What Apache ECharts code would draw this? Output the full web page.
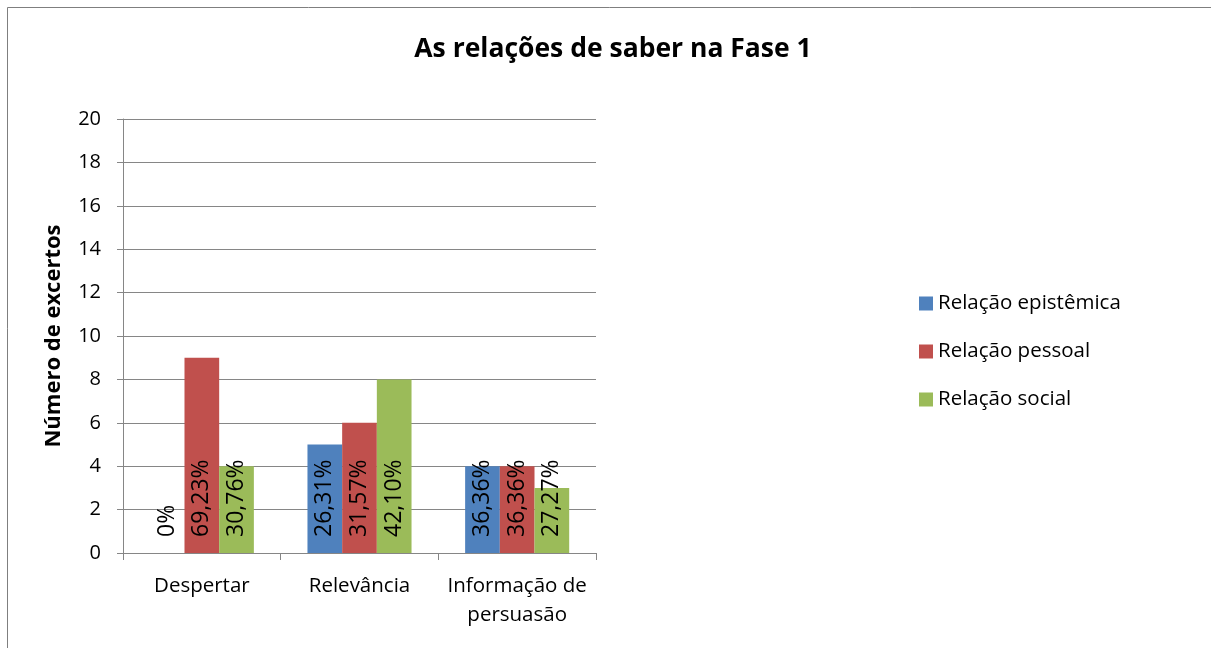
<!DOCTYPE html>
<html><head><meta charset="utf-8">
<script src="https://cdn.jsdelivr.net/npm/echarts@6/dist/echarts.min.js"></script>
<style>html,body{margin:0;padding:0;background:#fff}#c{width:1211px;height:648px}</style>
</head><body><div id="c"></div>
<script>
const categories = ['Despertar', 'Relevância', 'Informação de\npersuasão'];
const seriesNames = ['Relação epistêmica', 'Relação pessoal', 'Relação social'];
const epistemica = [0, 5, 4];
const pessoal = [9, 6, 4];
const social = [4, 8, 3];
const labelsEpistemica = ['0%', '26,31%', '36,36%'];
const labelsPessoal = ['69,23%', '31,57%', '36,36%'];
const labelsSocial = ['30,76%', '42,10%', '27,27%'];
const colors = ['#4F81BD', '#C0504D', '#9BBB59'];
const FONT = '"Open Sans", sans-serif';

function mk(name, data, labels, color) {
  return {
    name: name, type: 'bar', data: data, barGap: '0%', barCategoryGap: '34%',
    itemStyle: {color: color},
    label: {
      show: true, position: 'insideBottom', distance: 16, rotate: 90,
      align: 'left', verticalAlign: 'middle',
      fontFamily: FONT, fontSize: 23, color: '#000',
      formatter: p => labels[p.dataIndex]
    },
    labelLayout: {hideOverlap: false}
  };
}
const chart = echarts.init(document.getElementById('c'));
chart.setOption({
  animation: false,
  textStyle: {fontFamily: FONT},
  title: {
    text: 'As relações de saber na Fase 1', left: 608, top: 31, textAlign: 'center',
    textStyle: {fontFamily: FONT, fontSize: 26.5, fontWeight: 'bold', color: '#000'}
  },
  legend: {
    orient: 'vertical', left: 914, top: 288, itemGap: 27, itemWidth: 14, itemHeight: 14,
    icon: 'rect', data: seriesNames,
    textStyle: {fontFamily: FONT, fontSize: 20.5, color: '#000'}
  },
  grid: {left: 123, right: 615, top: 119, bottom: 95},
  xAxis: {
    type: 'category', data: categories,
    axisLine: {lineStyle: {color: '#868686', width: 1}},
    axisTick: {show: true, length: 7, lineStyle: {color: '#868686'}},
    axisLabel: {fontFamily: FONT, fontSize: 20.5, color: '#000', margin: 19, lineHeight: 29, interval: 0}
  },
  yAxis: {
    type: 'value', min: 0, max: 20, interval: 2,
    name: 'Número de excertos', nameLocation: 'middle', nameGap: 58, nameRotate: 90,
    nameTextStyle: {fontFamily: FONT, fontSize: 22, fontWeight: 'bold', color: '#000'},
    axisLine: {show: true, lineStyle: {color: '#868686'}},
    axisTick: {show: true, length: 6, lineStyle: {color: '#868686'}},
    axisLabel: {fontFamily: FONT, fontSize: 20, color: '#000', margin: 22},
    splitLine: {lineStyle: {color: '#868686', width: 1}}
  },
  graphic: [{
    type: 'rect', shape: {x: 7.5, y: 7.5, width: 1250, height: 700},
    style: {fill: 'none', stroke: '#7f7f7f', lineWidth: 1}, silent: true, z: -1
  }],
  series: [
    mk(seriesNames[0], epistemica, labelsEpistemica, colors[0]),
    mk(seriesNames[1], pessoal, labelsPessoal, colors[1]),
    mk(seriesNames[2], social, labelsSocial, colors[2])
  ]
});
</script></body></html>
